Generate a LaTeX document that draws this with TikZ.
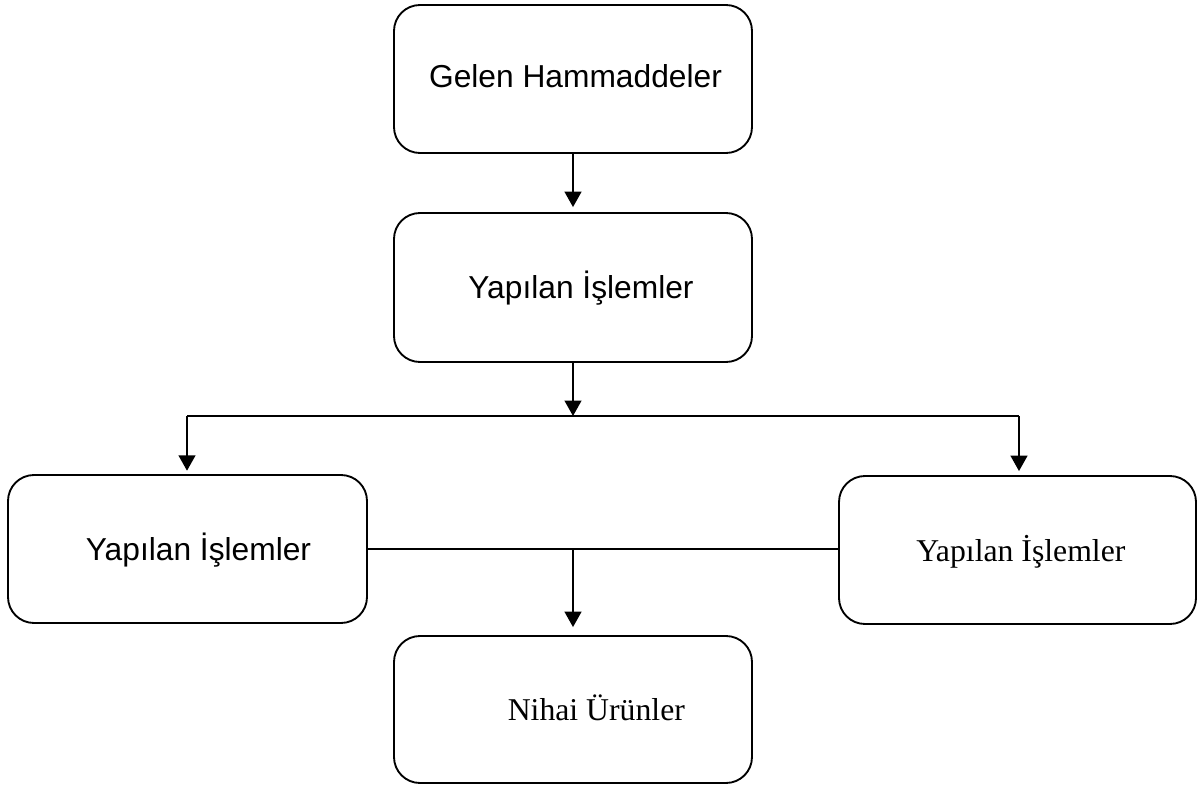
\documentclass[tikz,border=0pt]{standalone}
\usepackage{fontspec}
\setmainfont{Liberation Serif}
\newfontfamily\arialfont{Liberation Sans}
\usetikzlibrary{arrows.meta}
\begin{document}
\begin{tikzpicture}[x=0.75pt,y=-0.75pt,
  box/.style={draw, line width=1.4pt, rounded corners=19.5pt, rectangle,
    minimum width=268.5pt, minimum height=111pt, inner sep=0pt,
    text height=16.5pt, text depth=0pt, font=\fontsize{23.8}{28}\selectfont},
  sansbox/.style={box, font=\arialfont\fontsize{23.8}{28}\selectfont, text height=17pt},
  conn/.style={line width=1.5pt},
  arr/.style={conn, -{Triangle[width=12.5pt,length=11.5pt]}}]
\useasboundingbox (0,0) rectangle (1199,785);
\node[sansbox, text depth=4.5pt] (b1) at (573,79) {\hspace*{3.75pt}Gelen Hammaddeler};
\node[sansbox, minimum height=111.75pt] (b2) at (573,287.5) {\hspace*{12pt}Yapılan İşlemler};
\node[sansbox, minimum width=269.25pt] (bl) at (187.5,549) {\hspace*{16.5pt}Yapılan İşlemler};
\node[box, minimum width=267.75pt] (br) at (1017.5,550) {\hspace*{5pt}Yapılan İşlemler};
\node[box, minimum height=110.25pt] (b4) at (573,709.5) {\hspace*{35pt}Nihai Ürünler};
\coordinate (j1) at (573,416);
\coordinate (jl) at (187,416);
\coordinate (jr) at (1019,416);
\coordinate (j2) at (573,549);
\draw[arr, shorten >=3.75pt] (b1.south) -- (b2.north);
\draw[arr] (b2.south) -- (j1);
\draw[conn] (jl) -- (jr);
\draw[arr, shorten >=2.5pt] (jl) -- (jl |- bl.north);
\draw[arr, shorten >=3pt] (jr) -- (jr |- br.north);
\draw[conn] (bl.east) -- (bl.east -| br.west);
\draw[arr, shorten >=6pt] (j2) -- (b4.north);
\end{tikzpicture}
\end{document}
